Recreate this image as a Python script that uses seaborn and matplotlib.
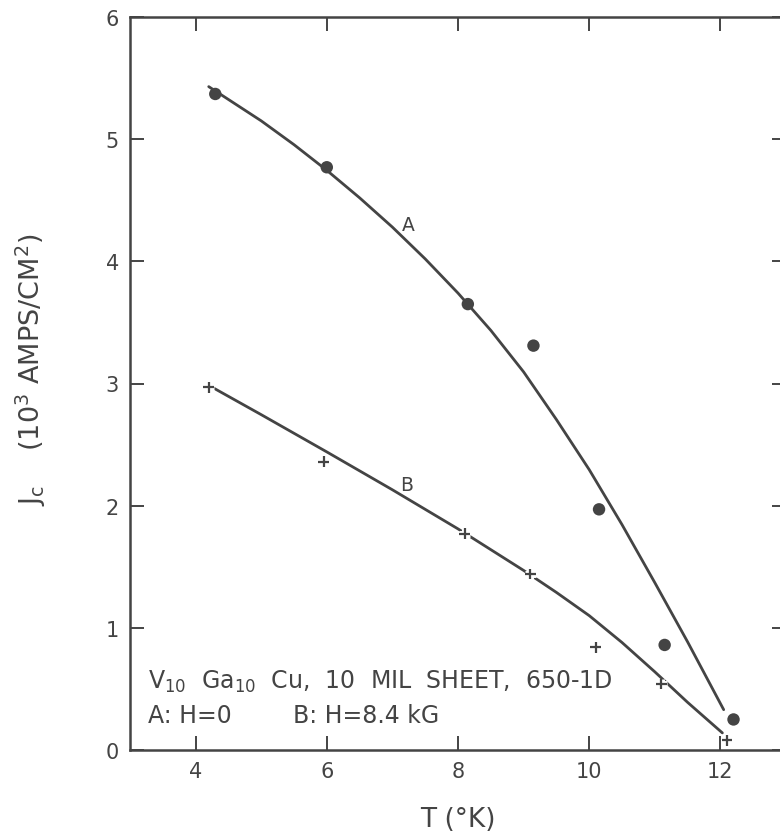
import matplotlib
matplotlib.use("Agg")
import matplotlib.pyplot as plt
import matplotlib.patheffects as pe
import pandas as pd
import seaborn as sns

# Measured critical current density, curve A (H = 0) and curve B (H = 8.4 kG)
temp_a = [4.3, 6.0, 8.15, 9.15, 10.15, 11.15, 12.2]
jc_a = [5.37, 4.77, 3.65, 3.31, 1.97, 0.86, 0.25]
temp_b = [4.2, 5.95, 8.1, 9.1, 10.1, 11.1, 12.1]
jc_b = [2.97, 2.36, 1.77, 1.44, 0.84, 0.54, 0.08]

# Hand-drawn fit curves through the data
fit_a_t = [4.2, 4.6, 5.0, 5.5, 6.0, 6.5, 7.0, 7.5, 8.0, 8.5, 9.0, 9.5,
           10.0, 10.5, 11.0, 11.5, 12.05]
fit_a_j = [5.43, 5.29, 5.15, 4.955, 4.745, 4.52, 4.28, 4.02, 3.74, 3.435,
           3.095, 2.705, 2.295, 1.845, 1.37, 0.885, 0.33]
fit_b_t = [4.25, 5.0, 6.0, 7.0, 8.0, 9.0, 9.5, 10.0, 10.5, 11.0, 11.5, 12.03]
fit_b_j = [2.97, 2.745, 2.44, 2.13, 1.81, 1.47, 1.29, 1.10, 0.88, 0.64, 0.39, 0.14]

x_ticks = [4, 6, 8, 10, 12]
y_ticks = [0, 1, 2, 3, 4, 5, 6]

ink = "#444444"

sns.set_theme(style="ticks")
plt.rcParams["font.family"] = ["DejaVu Sans"]
plt.rcParams["mathtext.default"] = "regular"

fig = plt.figure(figsize=(7.80, 8.37), dpi=100)
ax = fig.add_axes([130 / 780, 86 / 837, 656 / 780, 733 / 837])

pts_a = pd.DataFrame({"T": temp_a, "Jc": jc_a})
pts_b = pd.DataFrame({"T": temp_b, "Jc": jc_b})
fit_a = pd.DataFrame({"T": fit_a_t, "Jc": fit_a_j})
fit_b = pd.DataFrame({"T": fit_b_t, "Jc": fit_b_j})

sns.lineplot(data=fit_a, x="T", y="Jc", ax=ax, color=ink, lw=2.0,
             sort=False, estimator=None)
sns.lineplot(data=fit_b, x="T", y="Jc", ax=ax, color=ink, lw=2.0,
             sort=False, estimator=None)
sns.scatterplot(data=pts_a, x="T", y="Jc", ax=ax, color=ink, s=80,
                marker="o", edgecolor="none", zorder=4)
sns.scatterplot(data=pts_b, x="T", y="Jc", ax=ax, color=ink, s=60,
                marker="+", linewidth=1.6, zorder=4,
                path_effects=[pe.Stroke(linewidth=5, foreground="white"), pe.Normal()])

ax.set_xlim(3, 13)
ax.set_ylim(0, 6)
ax.set_xticks(x_ticks)
ax.set_yticks(y_ticks)
ax.set_xticklabels([str(v) for v in x_ticks])
ax.set_yticklabels([str(v) for v in y_ticks])
ax.tick_params(direction="in", length=10, width=1.4, color=ink,
               labelsize=15, labelcolor=ink, top=True, right=True)
ax.tick_params(axis="x", pad=8)
ax.tick_params(axis="y", pad=8)
for side in ax.spines.values():
    side.set_color(ink)
    side.set_linewidth(1.8)

ax.set_xlabel("T (°K)", fontsize=19, color=ink)
ax.xaxis.set_label_coords(0.5, -0.076)
ax.set_ylabel("J$_c$    (10$^3$ AMPS/CM$^2$)", fontsize=19.5, color=ink)
ax.yaxis.set_label_coords(-0.125, 0.52)

# Curve labels
ax.text(7.24, 4.30, "A", fontsize=13.5, color=ink, ha="center", va="center")
ax.text(7.22, 2.17, "B", fontsize=13.5, color=ink, ha="center", va="center")

# Sample description
ax.text(3.27, 0.51, "V$_{10}$  Ga$_{10}$  Cu,  10  MIL  SHEET,  650-1D",
        fontsize=17, color=ink, ha="left", va="baseline")
ax.text(3.27, 0.23, "A: H=0", fontsize=17, color=ink, ha="left", va="baseline")
ax.text(5.49, 0.23, "B: H=8.4 kG", fontsize=17, color=ink, ha="left", va="baseline")

fig.savefig("out.png", dpi=100, facecolor="white")
